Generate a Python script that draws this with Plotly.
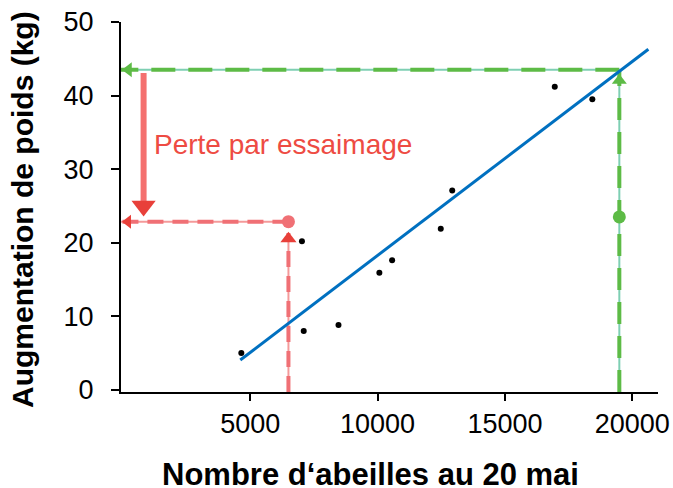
import plotly.graph_objects as go

# Observed data: number of bees on 20 May vs weight gain (kg)
bees = [4650, 7030, 7100, 8465, 10070, 10570, 12480, 12930, 16955, 18430]
gain = [5.0, 20.2, 8.0, 8.8, 15.9, 17.6, 21.9, 27.1, 41.2, 39.5]

# Regression line end points
fit_x = [4610, 20630]
fit_y = [4.05, 46.3]

# Green construction (strong colony)
green_x = 19490
green_y = 43.5
green_dot_y = 23.5
# Red construction (swarmed colony)
red_x = 6500
red_y = 22.85
red_tip_y = 21.3
# Axis origin used by the guide lines
x_left = -73
y_bottom = -0.3

# Thick "loss" arrow
loss_x = 814
loss_top = 43.07
loss_base = 25.5
loss_head_y = 25.0

# arrow head marker centres
green_left_head = (221, 43.5)
red_left_head = (201, 22.85)
green_up_head = (19490, 42.05)
red_up_head = (6500, 20.54)

label_text = "Perte par essaimage"
label_pos = (1155, 33.3)

x_ticks = [5000, 10000, 15000, 20000]
x_tick_text = ["5000", "10000", "15000", "20000"]
y_ticks = [0, 10, 20, 30, 40, 50]
y_tick_text = ["0", "10", "20", "30", "40", "50"]

GREEN = "#5DBB46"
GREEN_THIN = "#7ECFB3"
RED = "#F07075"
RED_THIN = "#F49A9A"
RED_DARK = "#E8403A"
BLUE = "#0070C0"
FONT = "Liberation Sans, Arial, sans-serif"

fig = go.Figure()

def guide(xs, ys, thin, dash_col, dash):
    fig.add_trace(go.Scatter(x=xs, y=ys, mode="lines", line=dict(color=thin, width=2),
                             hoverinfo="skip", showlegend=False, cliponaxis=False))
    fig.add_trace(go.Scatter(x=xs, y=ys, mode="lines", line=dict(color=dash_col, width=4, dash=dash),
                             hoverinfo="skip", showlegend=False, cliponaxis=False))

# green guides
guide([green_x, x_left], [green_y, green_y], GREEN_THIN, GREEN, "24px,13px")
guide([green_x, green_x], [y_bottom, green_y], GREEN_THIN, GREEN, "22px,12px")
# red guides
guide([red_x, x_left], [red_y, red_y], RED_THIN, RED, "16px,9px")
guide([red_x, red_x], [y_bottom, red_tip_y], RED_THIN, RED, "16px,9px")

# regression line
fig.add_trace(go.Scatter(x=fit_x, y=fit_y, mode="lines", line=dict(color=BLUE, width=3),
                         showlegend=False))
# observations
fig.add_trace(go.Scatter(x=bees, y=gain, mode="markers", marker=dict(color="black", size=6),
                         showlegend=False))

# thick loss arrow shaft
fig.add_trace(go.Scatter(x=[loss_x, loss_x], y=[loss_top, loss_base], mode="lines",
                         line=dict(color="#F4706F", width=6), showlegend=False))

# dots
fig.add_trace(go.Scatter(x=[red_x], y=[red_y], mode="markers", marker=dict(color=RED, size=13),
                         showlegend=False))
fig.add_trace(go.Scatter(x=[green_x], y=[green_dot_y], mode="markers", marker=dict(color=GREEN, size=13),
                         showlegend=False))

# arrow heads
def head(pt, sym, col, size):
    fig.add_trace(go.Scatter(x=[pt[0]], y=[pt[1]], mode="markers",
                             marker=dict(symbol=sym, color=col, size=size, line=dict(width=0)),
                             showlegend=False, cliponaxis=False))

head(green_left_head, "triangle-left", GREEN, 13)
head(green_up_head, "triangle-up", GREEN, 13)
head(red_left_head, "triangle-left", RED_DARK, 12)
head(red_up_head, "triangle-up", RED_DARK, 14)
head((loss_x, loss_head_y), "triangle-down", RED_DARK, 21)

fig.add_annotation(x=label_pos[0], y=label_pos[1], text=label_text, showarrow=False,
                   xanchor="left", yanchor="middle",
                   font=dict(family=FONT, size=28, color="#EE4B43"))

# axis titles
fig.add_annotation(xref="paper", yref="paper", x=0.464, y=-0.222, text="<b>Nombre d‘abeilles au 20 mai</b>",
                   showarrow=False, xanchor="center", yanchor="middle",
                   font=dict(family=FONT, size=31, color="black"))
fig.add_annotation(xref="paper", yref="paper", x=-0.1825, y=0.4946, text="<b>Augmentation de poids (kg)</b>",
                   showarrow=False, xanchor="center", yanchor="middle", textangle=-90,
                   font=dict(family=FONT, size=30, color="black"))

fig.update_layout(
    width=673, height=488,
    margin=dict(l=121, r=15, t=22, b=96, autoexpand=False),
    paper_bgcolor="white", plot_bgcolor="white",
    font=dict(family=FONT, size=27, color="black"),
    showlegend=False,
    xaxis=dict(range=[x_left, 21008], tickvals=x_ticks, ticktext=x_tick_text, ticks="outside",
               ticklen=7, tickwidth=2, automargin=False,
               tickcolor="black", showline=True, linecolor="black", linewidth=2,
               showgrid=False, zeroline=False, tickfont=dict(size=27)),
    yaxis=dict(range=[y_bottom, 50], tickvals=y_ticks, ticktext=y_tick_text, ticks="outside",
               ticklen=8, tickwidth=2, automargin=False, ticklabelstandoff=12,
               tickcolor="black", showline=True, linecolor="black", linewidth=2,
               showgrid=False, zeroline=False, tickfont=dict(size=27)),
)

fig.write_html("out.html", config={"displayModeBar": False},
               post_script="document.body.style.margin='0';document.body.style.overflow='hidden';")
